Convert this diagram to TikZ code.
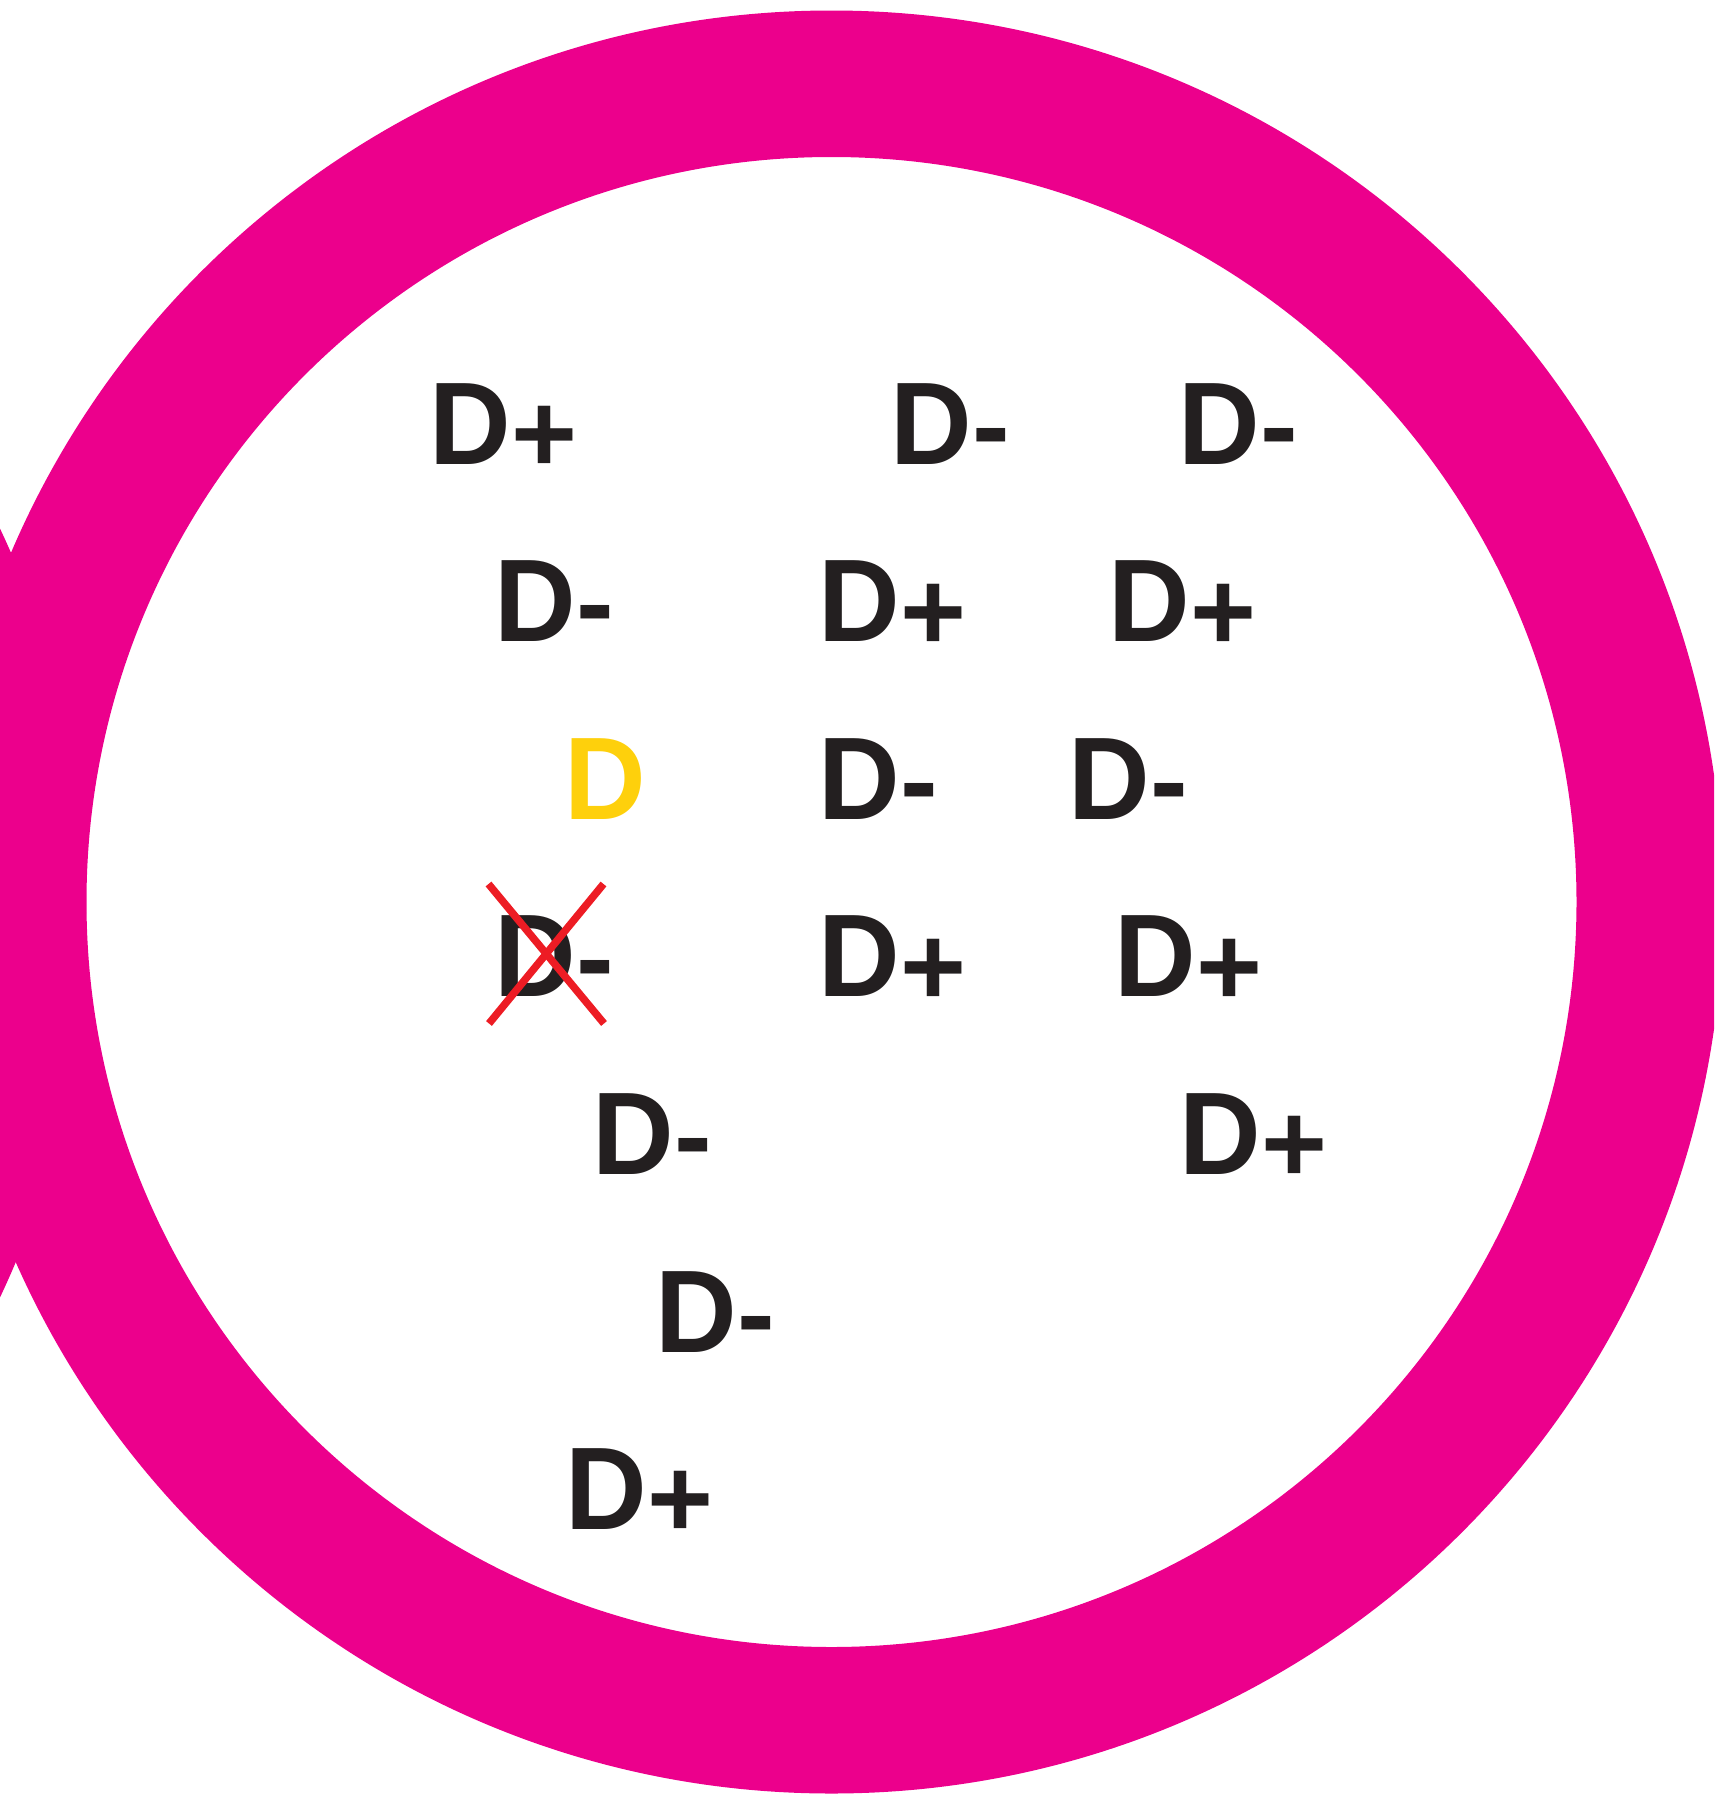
\documentclass[tikz,border=0pt]{standalone}
\usepackage{fontspec}
\setmainfont{Liberation Sans}
\definecolor{ringpink}{RGB}{236,0,140}
\definecolor{inkblack}{RGB}{35,31,32}
\definecolor{dyellow}{RGB}{254,208,12}
\definecolor{xred}{RGB}{237,28,36}
\newcommand{\Dch}{\scalebox{1}[1.04]{D}}
\newcommand{\Dplus}{\Dch\raisebox{-8.5pt}{+}}
\newcommand{\Dminus}{\Dch-}
\tikzset{
  lbl/.style={anchor=base west, inner sep=0pt, outer sep=0pt, text=inkblack,
    font=\fontsize{113pt}{113pt}\selectfont\bfseries},
  ylbl/.style={lbl, text=dyellow},
  xline/.style={draw=xred, line width=7.5pt},
}
\begin{document}
\begin{tikzpicture}[x=1pt,y=-1pt]
\useasboundingbox (0,0) rectangle (1714,1796);
\clip (0,0) rectangle (1714,1796);
% rings
\fill[ringpink, even odd rule] (-814,913) circle (900pt) circle (752pt);
\fill[ringpink, even odd rule] (831.5,902) circle (891.5pt) circle (745pt);
% labels (x = left edge of D minus side bearing)
\def\sb{8.3}
\node[lbl] (r1a) at (438-\sb,464) {\Dplus};
\node[lbl] (r1b) at (899-\sb,464) {\Dminus};
\node[lbl] (r1c) at (1187-\sb,464) {\Dminus};
\node[lbl] (r2a) at (503-\sb,641.5) {\Dminus};
\node[lbl] (r2b) at (827-\sb,641.5) {\Dplus};
\node[lbl] (r2c) at (1117-\sb,641.5) {\Dplus};
\node[ylbl] (r3a) at (573-\sb,819) {\Dch};
\node[lbl] (r3b) at (827-\sb,819) {\Dminus};
\node[lbl] (r3c) at (1077-\sb,819) {\Dminus};
\node[lbl] (r4a) at (503-\sb,996.5) {\Dminus};
\node[lbl] (r4b) at (827-\sb,996.5) {\Dplus};
\node[lbl] (r4c) at (1123-\sb,996.5) {\Dplus};
\node[lbl] (r5a) at (601-\sb,1174) {\Dminus};
\node[lbl] (r5b) at (1188-\sb,1174) {\Dplus};
\node[lbl] (r6a) at (664-\sb,1352) {\Dminus};
\node[lbl] (r7a) at (574-\sb,1529) {\Dplus};
% red cross
\coordinate (xtl) at (488.5,884);
\coordinate (xbr) at (604,1023.5);
\coordinate (xtr) at (603.5,884);
\coordinate (xbl) at (489,1023.5);
\draw[xline] (xtl) -- (xbr);
\draw[xline] (xtr) -- (xbl);
\end{tikzpicture}
\end{document}
